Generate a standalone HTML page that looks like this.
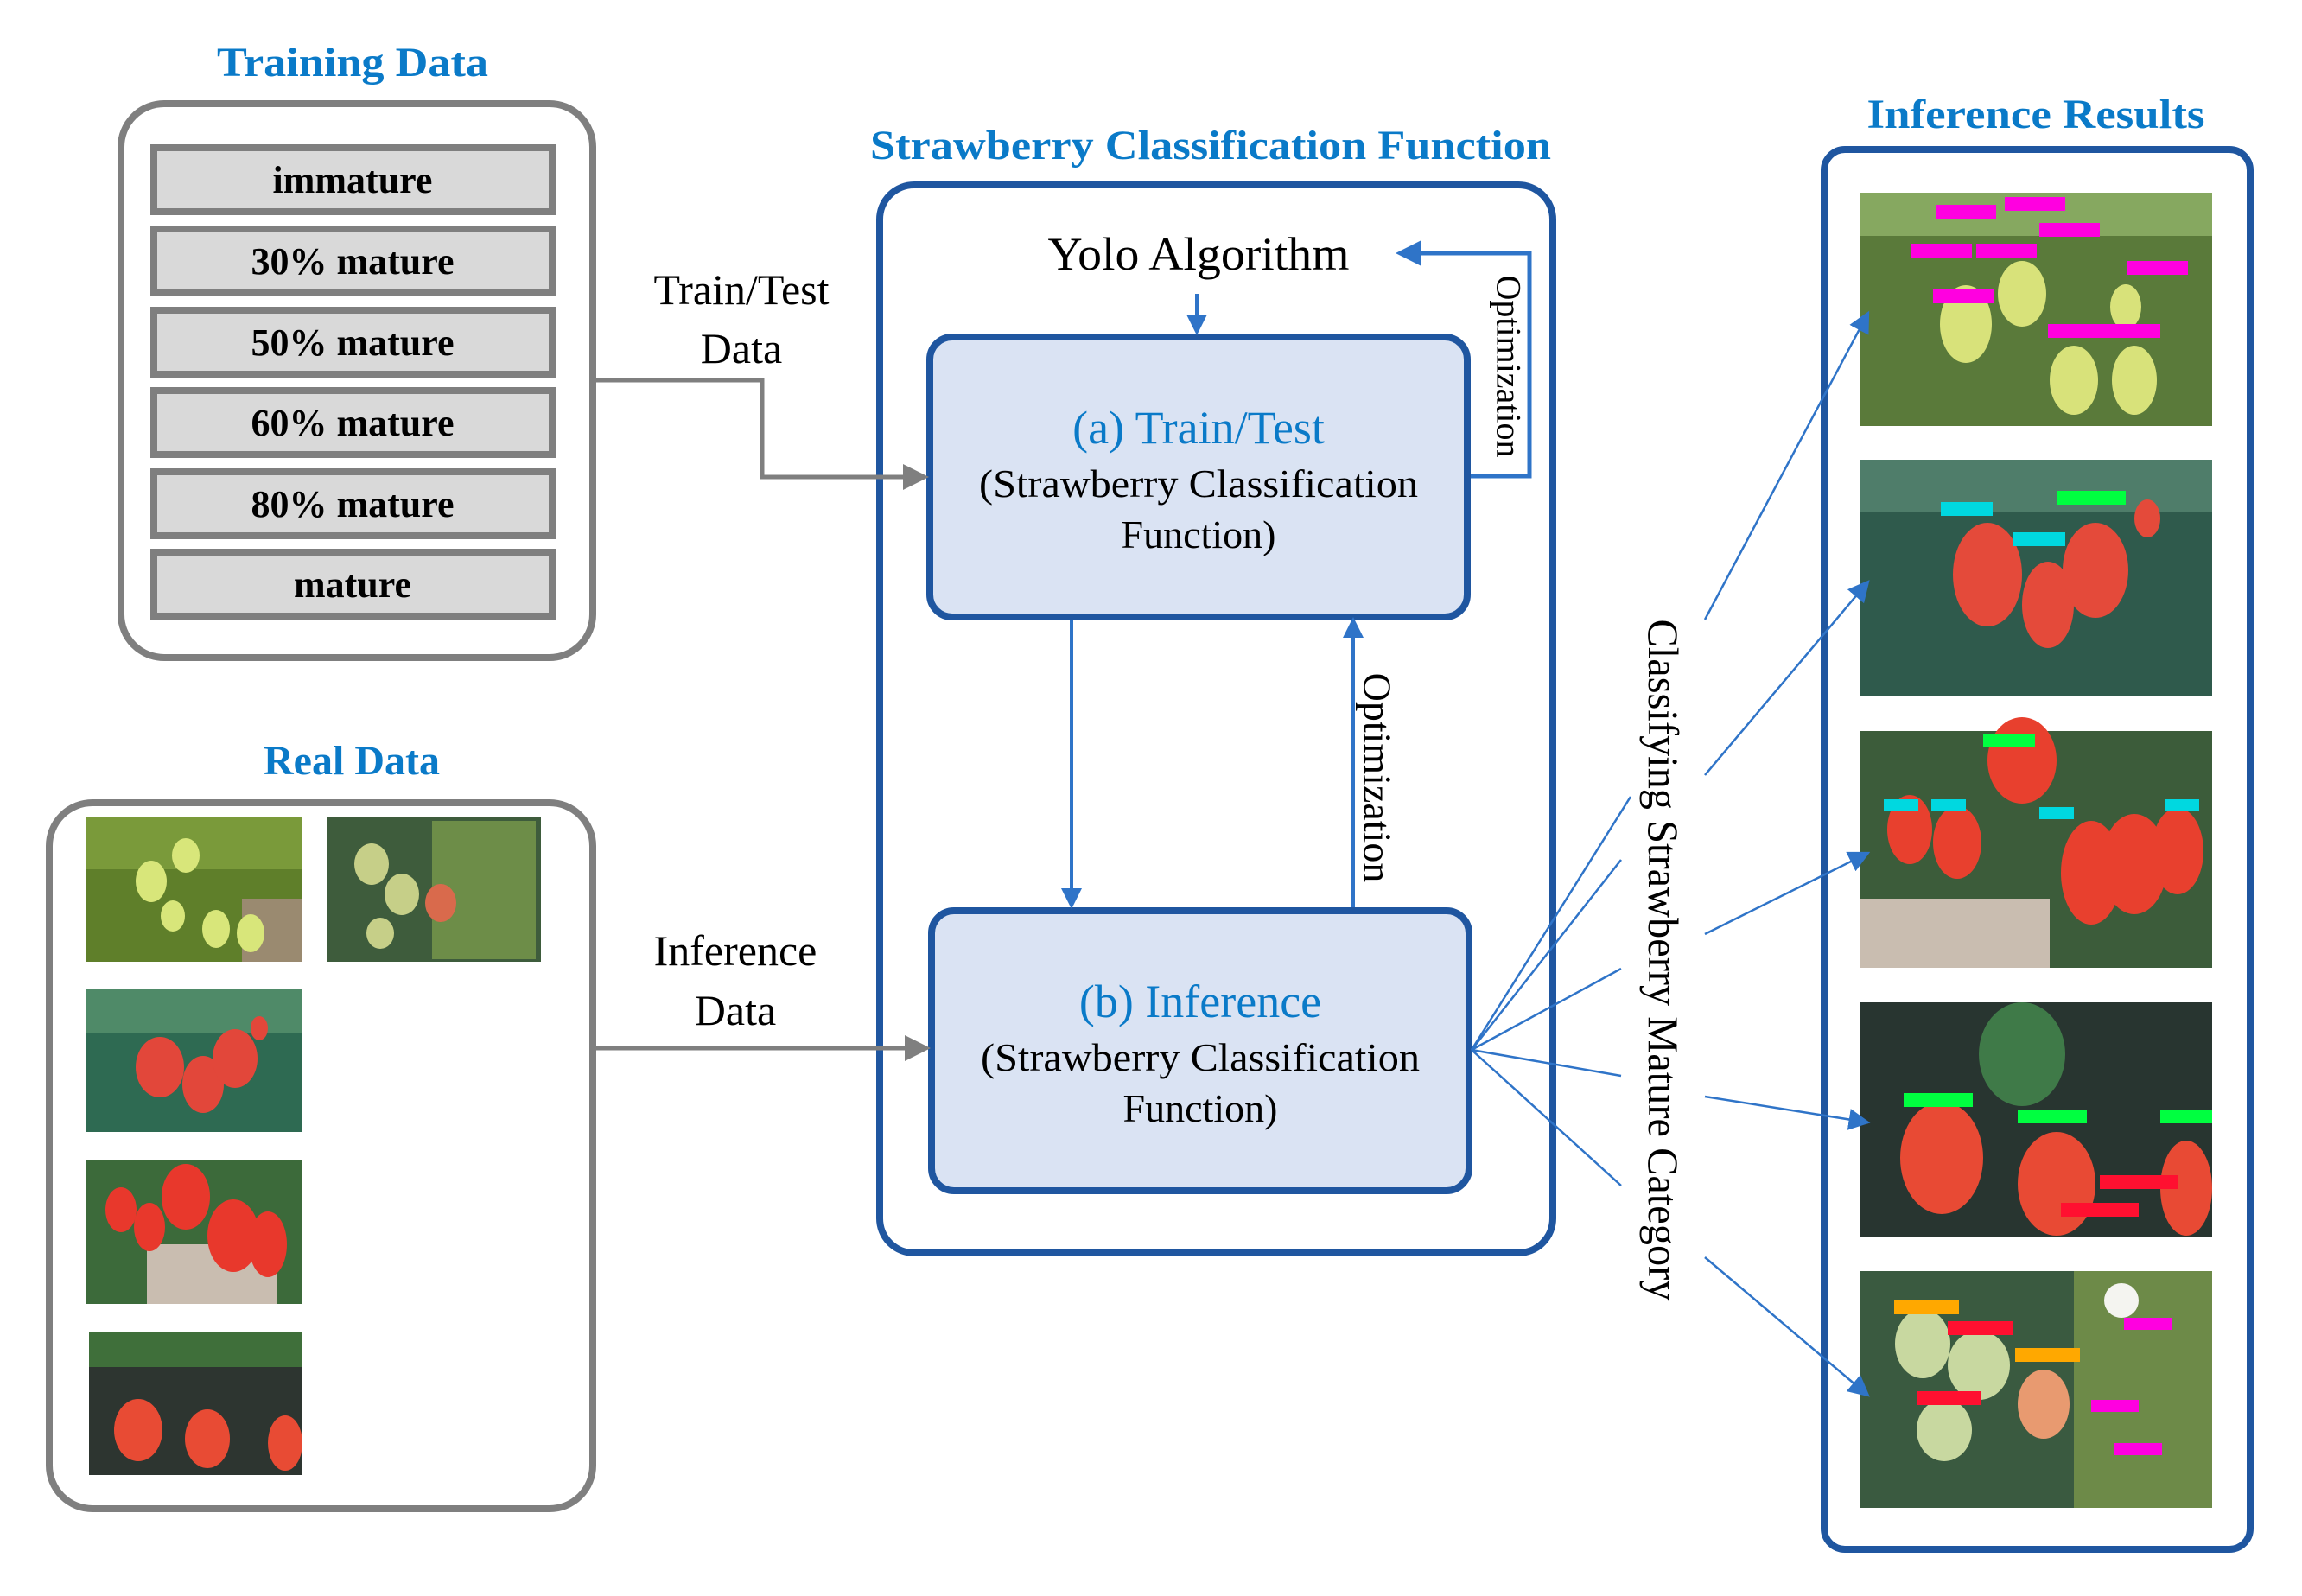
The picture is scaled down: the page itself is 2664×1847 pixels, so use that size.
<!DOCTYPE html>
<html><head><meta charset="utf-8"><style>
html,body{margin:0;padding:0;background:#fff;}
svg{display:block;}
text{font-family:"Liberation Serif","Times New Roman",serif;}
</style></head><body>
<svg width="2664" height="1847" viewBox="0 0 2664 1847" xmlns="http://www.w3.org/2000/svg" font-family="Liberation Serif, Times New Roman, serif">
<defs>
<marker id="ag" markerWidth="6" markerHeight="6" refX="5" refY="3" orient="auto" markerUnits="strokeWidth"><path d="M0,0 L6,3 L0,6 z" fill="#7f7f7f"/></marker>
<marker id="ab" markerWidth="6" markerHeight="6" refX="5" refY="3" orient="auto" markerUnits="strokeWidth"><path d="M0,0 L6,3 L0,6 z" fill="#2f74c8"/></marker>
<marker id="ab2" markerWidth="10" markerHeight="10" refX="9" refY="5" orient="auto" markerUnits="strokeWidth"><path d="M0,0 L10,5 L0,10 z" fill="#2f74c8"/></marker>
</defs>

<!-- Training data -->
<text x="408" y="88" text-anchor="middle" font-size="48" font-weight="bold" fill="#0a7ac8" textLength="314" lengthAdjust="spacingAndGlyphs">Training Data</text>
<rect x="140" y="120" width="546" height="641" rx="50" fill="#fff" stroke="#7f7f7f" stroke-width="8"/>
<g fill="#d9d9d9" stroke="#7f7f7f" stroke-width="8">
<rect x="178" y="171" width="461" height="74"/>
<rect x="178" y="265" width="461" height="74"/>
<rect x="178" y="359" width="461" height="74"/>
<rect x="178" y="452" width="461" height="74"/>
<rect x="178" y="546" width="461" height="74"/>
<rect x="178" y="639" width="461" height="74"/>
</g>
<g font-size="44" font-weight="bold" text-anchor="middle" fill="#000">
<text x="408" y="223">immature</text>
<text x="408" y="317">30% mature</text>
<text x="408" y="411">50% mature</text>
<text x="408" y="504">60% mature</text>
<text x="408" y="598">80% mature</text>
<text x="408" y="691">mature</text>
</g>

<text x="858" y="352" text-anchor="middle" font-size="50">Train/Test</text>
<text x="858" y="420" text-anchor="middle" font-size="50">Data</text>

<!-- Real data -->
<text x="407" y="896" text-anchor="middle" font-size="48" font-weight="bold" fill="#0a7ac8">Real Data</text>
<rect x="57" y="929" width="629" height="817" rx="50" fill="#fff" stroke="#7f7f7f" stroke-width="8"/>
<text x="851" y="1117" text-anchor="middle" font-size="50">Inference</text>
<text x="851" y="1186" text-anchor="middle" font-size="50">Data</text>

<!-- real images -->
<g>
<rect x="100" y="946" width="249" height="167" fill="#5f7f2a"/>
<rect x="100" y="946" width="249" height="60" fill="#7a9a3a"/>
<rect x="280" y="1040" width="69" height="73" fill="#9a8a70"/>
<g fill="#d8e67a"><ellipse cx="175" cy="1020" rx="18" ry="24"/><ellipse cx="215" cy="990" rx="16" ry="20"/><ellipse cx="250" cy="1075" rx="16" ry="22"/><ellipse cx="290" cy="1080" rx="16" ry="22"/><ellipse cx="200" cy="1060" rx="14" ry="18"/></g>
</g>
<g>
<rect x="379" y="946" width="247" height="167" fill="#3e5c3c"/>
<rect x="500" y="950" width="120" height="160" fill="#6d8d48"/>
<g fill="#c6cf88"><ellipse cx="430" cy="1000" rx="20" ry="24"/><ellipse cx="465" cy="1035" rx="20" ry="24"/><ellipse cx="440" cy="1080" rx="16" ry="18"/></g>
<ellipse cx="510" cy="1045" rx="18" ry="22" fill="#d96a4c"/>
</g>
<g>
<rect x="100" y="1145" width="249" height="165" fill="#2e6a52"/>
<rect x="100" y="1145" width="249" height="50" fill="#4f8a68"/>
<g fill="#e2473a"><ellipse cx="185" cy="1235" rx="28" ry="35"/><ellipse cx="235" cy="1255" rx="24" ry="33"/><ellipse cx="272" cy="1225" rx="26" ry="34"/><ellipse cx="300" cy="1190" rx="10" ry="14"/></g>
</g>
<g>
<rect x="100" y="1342" width="249" height="167" fill="#3c6a3a"/>
<rect x="170" y="1440" width="150" height="69" fill="#c9bdb0"/>
<g fill="#e8382c"><ellipse cx="215" cy="1385" rx="28" ry="38"/><ellipse cx="140" cy="1400" rx="18" ry="26"/><ellipse cx="173" cy="1420" rx="18" ry="28"/><ellipse cx="270" cy="1430" rx="30" ry="42"/><ellipse cx="310" cy="1440" rx="22" ry="38"/></g>
</g>
<g>
<rect x="103" y="1542" width="246" height="165" fill="#2d3530"/>
<rect x="103" y="1542" width="246" height="40" fill="#3f6f3a"/>
<g fill="#e84b34"><ellipse cx="160" cy="1655" rx="28" ry="36"/><ellipse cx="240" cy="1665" rx="26" ry="34"/><ellipse cx="330" cy="1670" rx="20" ry="32"/></g>
</g>

<!-- Strawberry classification function -->
<text x="1401" y="184" text-anchor="middle" font-size="48" font-weight="bold" fill="#0a7ac8" textLength="788" lengthAdjust="spacingAndGlyphs">Strawberry Classification Function</text>
<rect x="1018" y="214" width="779" height="1236" rx="40" fill="#fff" stroke="#1f56a0" stroke-width="8"/>
<text x="1387" y="312" text-anchor="middle" font-size="54" textLength="349" lengthAdjust="spacingAndGlyphs">Yolo Algorithm</text>
<rect x="1076" y="390" width="622" height="324" rx="26" fill="#dae3f3" stroke="#1f56a0" stroke-width="8"/>
<text x="1387" y="513" text-anchor="middle" font-size="54" fill="#0a7ac8">(a) Train/Test</text>
<text x="1387" y="575" text-anchor="middle" font-size="46" textLength="508" lengthAdjust="spacingAndGlyphs">(Strawberry Classification</text>
<text x="1387" y="634" text-anchor="middle" font-size="46">Function)</text>
<text transform="translate(1746,424) rotate(90)" text-anchor="middle" dominant-baseline="central" font-size="40">Optimization</text>
<text transform="translate(1594,900) rotate(90)" text-anchor="middle" dominant-baseline="central" font-size="46">Optimization</text>

<rect x="1078" y="1054" width="622" height="324" rx="26" fill="#dae3f3" stroke="#1f56a0" stroke-width="8"/>
<text x="1389" y="1177" text-anchor="middle" font-size="54" fill="#0a7ac8">(b) Inference</text>
<text x="1389" y="1239" text-anchor="middle" font-size="46" textLength="508" lengthAdjust="spacingAndGlyphs">(Strawberry Classification</text>
<text x="1389" y="1298" text-anchor="middle" font-size="46">Function)</text>

<text transform="translate(1925,1111) rotate(90)" text-anchor="middle" dominant-baseline="central" font-size="50" textLength="789" lengthAdjust="spacingAndGlyphs">Classifying Strawberry Mature Category</text>

<!-- inference results -->
<text x="2356" y="148" text-anchor="middle" font-size="48" font-weight="bold" fill="#0a7ac8" textLength="391" lengthAdjust="spacingAndGlyphs">Inference Results</text>
<rect x="2111" y="173" width="493" height="1620" rx="24" fill="#fff" stroke="#1f56a0" stroke-width="8"/>

<g>
<rect x="2152" y="223" width="408" height="270" fill="#5a7a3a"/>
<rect x="2152" y="223" width="408" height="50" fill="#86a860"/>
<g fill="#d8e27a"><ellipse cx="2275" cy="375" rx="30" ry="45"/><ellipse cx="2340" cy="340" rx="28" ry="38"/><ellipse cx="2400" cy="440" rx="28" ry="40"/><ellipse cx="2470" cy="440" rx="26" ry="40"/><ellipse cx="2460" cy="355" rx="18" ry="26"/></g>
<g fill="#ff00e0"><rect x="2240" y="237" width="70" height="16"/><rect x="2320" y="228" width="70" height="16"/><rect x="2360" y="258" width="70" height="16"/><rect x="2212" y="282" width="70" height="16"/><rect x="2287" y="282" width="70" height="16"/><rect x="2462" y="302" width="70" height="16"/><rect x="2237" y="335" width="70" height="16"/><rect x="2370" y="375" width="130" height="16"/></g>
</g>
<g>
<rect x="2152" y="532" width="408" height="273" fill="#2f5a4c"/>
<rect x="2152" y="532" width="408" height="60" fill="#4f7d6a"/>
<g fill="#e44a3a"><ellipse cx="2300" cy="665" rx="40" ry="60"/><ellipse cx="2370" cy="700" rx="30" ry="50"/><ellipse cx="2425" cy="660" rx="38" ry="55"/><ellipse cx="2485" cy="600" rx="15" ry="22"/></g>
<g fill="#00d8e0"><rect x="2246" y="581" width="60" height="16"/><rect x="2330" y="616" width="60" height="16"/></g>
<rect x="2380" y="568" width="80" height="16" fill="#00ff40"/>
</g>
<g>
<rect x="2152" y="846" width="408" height="274" fill="#3c5c3a"/>
<rect x="2152" y="1040" width="220" height="80" fill="#c9bdb0"/>
<g fill="#e8402e"><ellipse cx="2210" cy="960" rx="26" ry="40"/><ellipse cx="2265" cy="975" rx="28" ry="42"/><ellipse cx="2340" cy="880" rx="40" ry="50"/><ellipse cx="2420" cy="1010" rx="35" ry="60"/><ellipse cx="2470" cy="1000" rx="38" ry="58"/><ellipse cx="2520" cy="985" rx="30" ry="50"/></g>
<rect x="2295" y="850" width="60" height="14" fill="#00ff40"/>
<g fill="#00d8e0"><rect x="2180" y="925" width="40" height="14"/><rect x="2235" y="925" width="40" height="14"/><rect x="2360" y="934" width="40" height="14"/><rect x="2505" y="925" width="40" height="14"/></g>
</g>
<g>
<rect x="2153" y="1160" width="407" height="271" fill="#283530"/>
<ellipse cx="2340" cy="1220" rx="50" ry="60" fill="#3f7a48"/>
<g fill="#e84a34"><ellipse cx="2247" cy="1340" rx="48" ry="65"/><ellipse cx="2380" cy="1370" rx="45" ry="60"/><ellipse cx="2530" cy="1375" rx="30" ry="55"/></g>
<g fill="#00ff40"><rect x="2203" y="1265" width="80" height="16"/><rect x="2335" y="1284" width="80" height="16"/><rect x="2500" y="1284" width="60" height="16"/></g>
<g fill="#ff1030"><rect x="2430" y="1360" width="90" height="16"/><rect x="2385" y="1392" width="90" height="16"/></g>
</g>
<g>
<rect x="2152" y="1471" width="408" height="274" fill="#3a5a40"/>
<rect x="2400" y="1471" width="160" height="274" fill="#6d8a48"/>
<g fill="#c8d8a0"><ellipse cx="2225" cy="1555" rx="32" ry="40"/><ellipse cx="2290" cy="1580" rx="36" ry="40"/><ellipse cx="2250" cy="1655" rx="32" ry="36"/></g>
<ellipse cx="2365" cy="1625" rx="30" ry="40" fill="#e89a70"/>
<ellipse cx="2455" cy="1505" rx="20" ry="20" fill="#f4f4f0"/>
<g fill="#ffa800"><rect x="2192" y="1505" width="75" height="16"/><rect x="2332" y="1560" width="75" height="16"/></g>
<g fill="#ff1030"><rect x="2254" y="1529" width="75" height="16"/><rect x="2218" y="1610" width="75" height="16"/></g>
<g fill="#ff00e0"><rect x="2458" y="1525" width="55" height="14"/><rect x="2420" y="1620" width="55" height="14"/><rect x="2447" y="1670" width="55" height="14"/></g>
</g>

<!-- connectors drawn last -->
<polyline points="688,440 882,440 882,552 1070,552" fill="none" stroke="#7f7f7f" stroke-width="5" marker-end="url(#ag)"/>
<line x1="688" y1="1213" x2="1072" y2="1213" stroke="#7f7f7f" stroke-width="5" marker-end="url(#ag)"/>
<line x1="1385" y1="340" x2="1385" y2="384" stroke="#2f74c8" stroke-width="4" marker-end="url(#ab)"/>
<polyline points="1702,551 1770,551 1770,293 1620,293" fill="none" stroke="#2f74c8" stroke-width="5" marker-end="url(#ab)"/>
<line x1="1240" y1="718" x2="1240" y2="1048" stroke="#2f74c8" stroke-width="4" marker-end="url(#ab)"/>
<line x1="1566" y1="1050" x2="1566" y2="718" stroke="#2f74c8" stroke-width="4" marker-end="url(#ab)"/>
<g stroke="#2f74c8" stroke-width="2.5" fill="none">
<line x1="1703" y1="1215" x2="1887" y2="922"/>
<line x1="1703" y1="1215" x2="1876" y2="995"/>
<line x1="1703" y1="1215" x2="1876" y2="1121"/>
<line x1="1703" y1="1215" x2="1876" y2="1245"/>
<line x1="1703" y1="1215" x2="1876" y2="1372"/>
<line x1="1973" y1="717" x2="2162" y2="362" marker-end="url(#ab2)"/>
<line x1="1973" y1="897" x2="2162" y2="673" marker-end="url(#ab2)"/>
<line x1="1973" y1="1081" x2="2162" y2="987" marker-end="url(#ab2)"/>
<line x1="1973" y1="1269" x2="2162" y2="1299" marker-end="url(#ab2)"/>
<line x1="1973" y1="1455" x2="2162" y2="1615" marker-end="url(#ab2)"/>
</g>
</svg>
</body></html>
